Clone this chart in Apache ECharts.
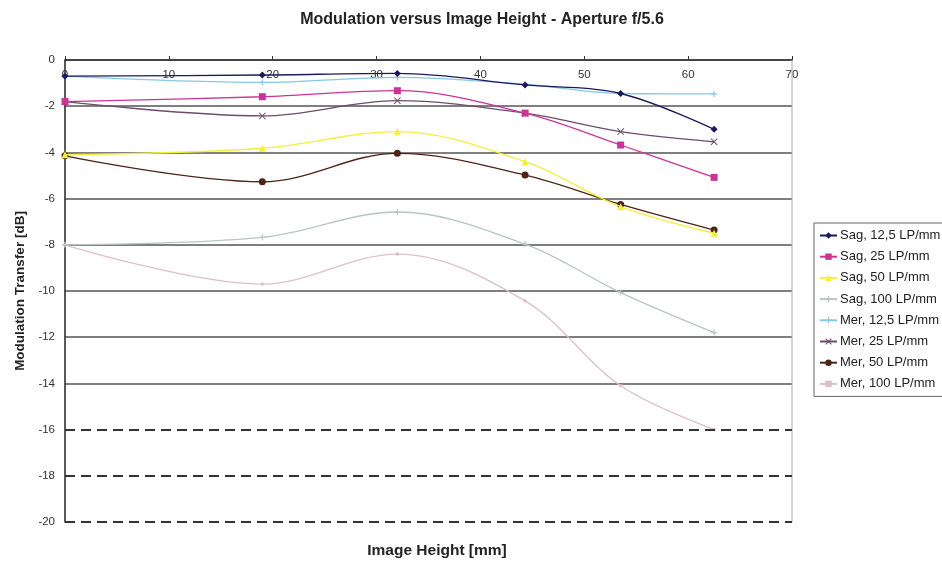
<!DOCTYPE html>
<html>
<head>
<meta charset="utf-8">
<script src="https://cdn.jsdelivr.net/npm/echarts@6/dist/echarts.min.js"></script>
<style>html,body{margin:0;padding:0;background:#fff}#c{width:942px;height:561px}</style>
</head>
<body>
<div id="c"></div>
<script>
// Image height positions [mm]
const imageHeights = [0, 19, 32, 44.3, 53.5, 62.5];
// Series names
const seriesNames = ["Sag, 12,5 LP/mm","Sag, 25 LP/mm","Sag, 50 LP/mm","Sag, 100 LP/mm","Mer, 12,5 LP/mm","Mer, 25 LP/mm","Mer, 50 LP/mm","Mer, 100 LP/mm"];
// Modulation transfer [dB]
const sag125 = [-0.7, -0.65, -0.58, -1.08, -1.45, -3.0];
const sag25  = [-1.8, -1.59, -1.33, -2.3, -3.68, -5.08];
const sag50  = [-4.1, -3.82, -3.1, -4.4, -6.35, -7.5];
const sag100 = [-8.0, -7.68, -6.58, -7.97, -10.07, -11.8];
const mer125 = [-0.7, -0.97, -0.75, -1.05, -1.45, -1.47];
const mer25  = [-1.8, -2.42, -1.76, -2.3, -3.1, -3.54];
const mer50  = [-4.15, -5.27, -4.04, -4.98, -6.25, -7.36];
const mer100 = [-8.0, -9.7, -8.4, -10.43, -14.1, -16.0];
const xTicks = [0, 10, 20, 30, 40, 50, 60, 70];
const yTicks = [0, -2, -4, -6, -8, -10, -12, -14, -16, -18, -20];
const dashedGridValues = [-16, -18, -20];

const allValues = [sag125, sag25, sag50, sag100, mer125, mer25, mer50, mer100];
const colors = ["#1c1a5e","#cc3399","#f2f03c","#b9c6bf","#86c8e6","#6b4d6b","#4e2418","#dcc0c8"];
const crossPath = "path://M4,0H6V4H10V6H6V10H4V6H0V4H4Z";
const xPath = "path://M1,0L5,4L9,0L10,1L6,5L10,9L9,10L5,6L1,10L0,9L4,5L0,1Z";
const symbols = ["diamond","rect","triangle",crossPath,crossPath,xPath,"circle","rect"];
const sizes = [7,7,7,6,6,7,7,3];

const chart = echarts.init(document.getElementById('c'));
const series = seriesNames.map((n,i)=>({
  name:n, type:'line', smooth:0.35,
  data: imageHeights.map((x,j)=>[x, allValues[i][j]]),
  symbol: symbols[i], symbolSize: sizes[i],
  lineStyle:{color:colors[i], width:1.3},
  itemStyle:{color:colors[i]},
  z: 10-i
}));

// split line colours: index 0 = -20 (bottom) ... 10 = 0 (top)
const splitColors = yTicks.slice().reverse().map(v => dashedGridValues.indexOf(v) >= 0 ? 'rgba(0,0,0,0)' : '#555');

chart.setOption({
  animation:false,
  backgroundColor:'#fff',
  title:[
    {text:'Modulation versus Image Height - Aperture f/5.6', left:477, top:7, textAlign:'center',
     textStyle:{fontFamily:'Liberation Sans', fontSize:16, fontWeight:'bold', color:'#222'}},
    {text:'Image Height [mm]', left:432, top:538, textAlign:'center',
     textStyle:{fontFamily:'Liberation Sans', fontSize:15.5, fontWeight:'bold', color:'#222'}}
  ],
  grid:{left:65, right:150, top:60, bottom:39},
  legend:{
    orient:'vertical', left:814, top:223, itemGap:8.2, itemWidth:17, itemHeight:8,
    padding:[6,5,6,5], borderColor:'#666', borderWidth:1,
    data:seriesNames,
    textStyle:{fontFamily:'Liberation Sans', fontSize:13, color:'#222', padding:[0,0,0,-2]}
  },
  xAxis:{
    type:'value', position:'top', min:0, max:70, interval:10,
    axisLine:{lineStyle:{color:'#333', width:1.5}},
    axisTick:{show:true, length:4, lineStyle:{color:'#333'}},
    axisLabel:{inside:true, fontFamily:'Liberation Sans', fontSize:11.5, color:'#333', margin:9},
    splitLine:{show:false}
  },
  yAxis:{
    type:'value', min:-20, max:0, interval:2,
    name:'Modulation Transfer [dB]', nameLocation:'middle', nameGap:36,
    nameTextStyle:{fontFamily:'Liberation Sans', fontSize:13.5, fontWeight:'bold', color:'#222'},
    axisLine:{show:true, lineStyle:{color:'#222', width:1.5}},
    axisTick:{show:false},
    axisLabel:{fontFamily:'Liberation Sans', fontSize:11.5, color:'#333', margin:10},
    splitLine:{show:true, lineStyle:{color:splitColors, width:1.5}}
  },
  series: series.concat([{
    type:'line', data:[[70,0],[70,-20]], symbol:'none', silent:true,
    lineStyle:{color:'#aaa', width:1}, z:1,
    markLine:{
      silent:true, symbol:'none', label:{show:false},
      lineStyle:{color:'#333', width:2, type:[10,6]},
      data: dashedGridValues.map(v=>({yAxis:v}))
    }
  }])
});
</script>
</body>
</html>
